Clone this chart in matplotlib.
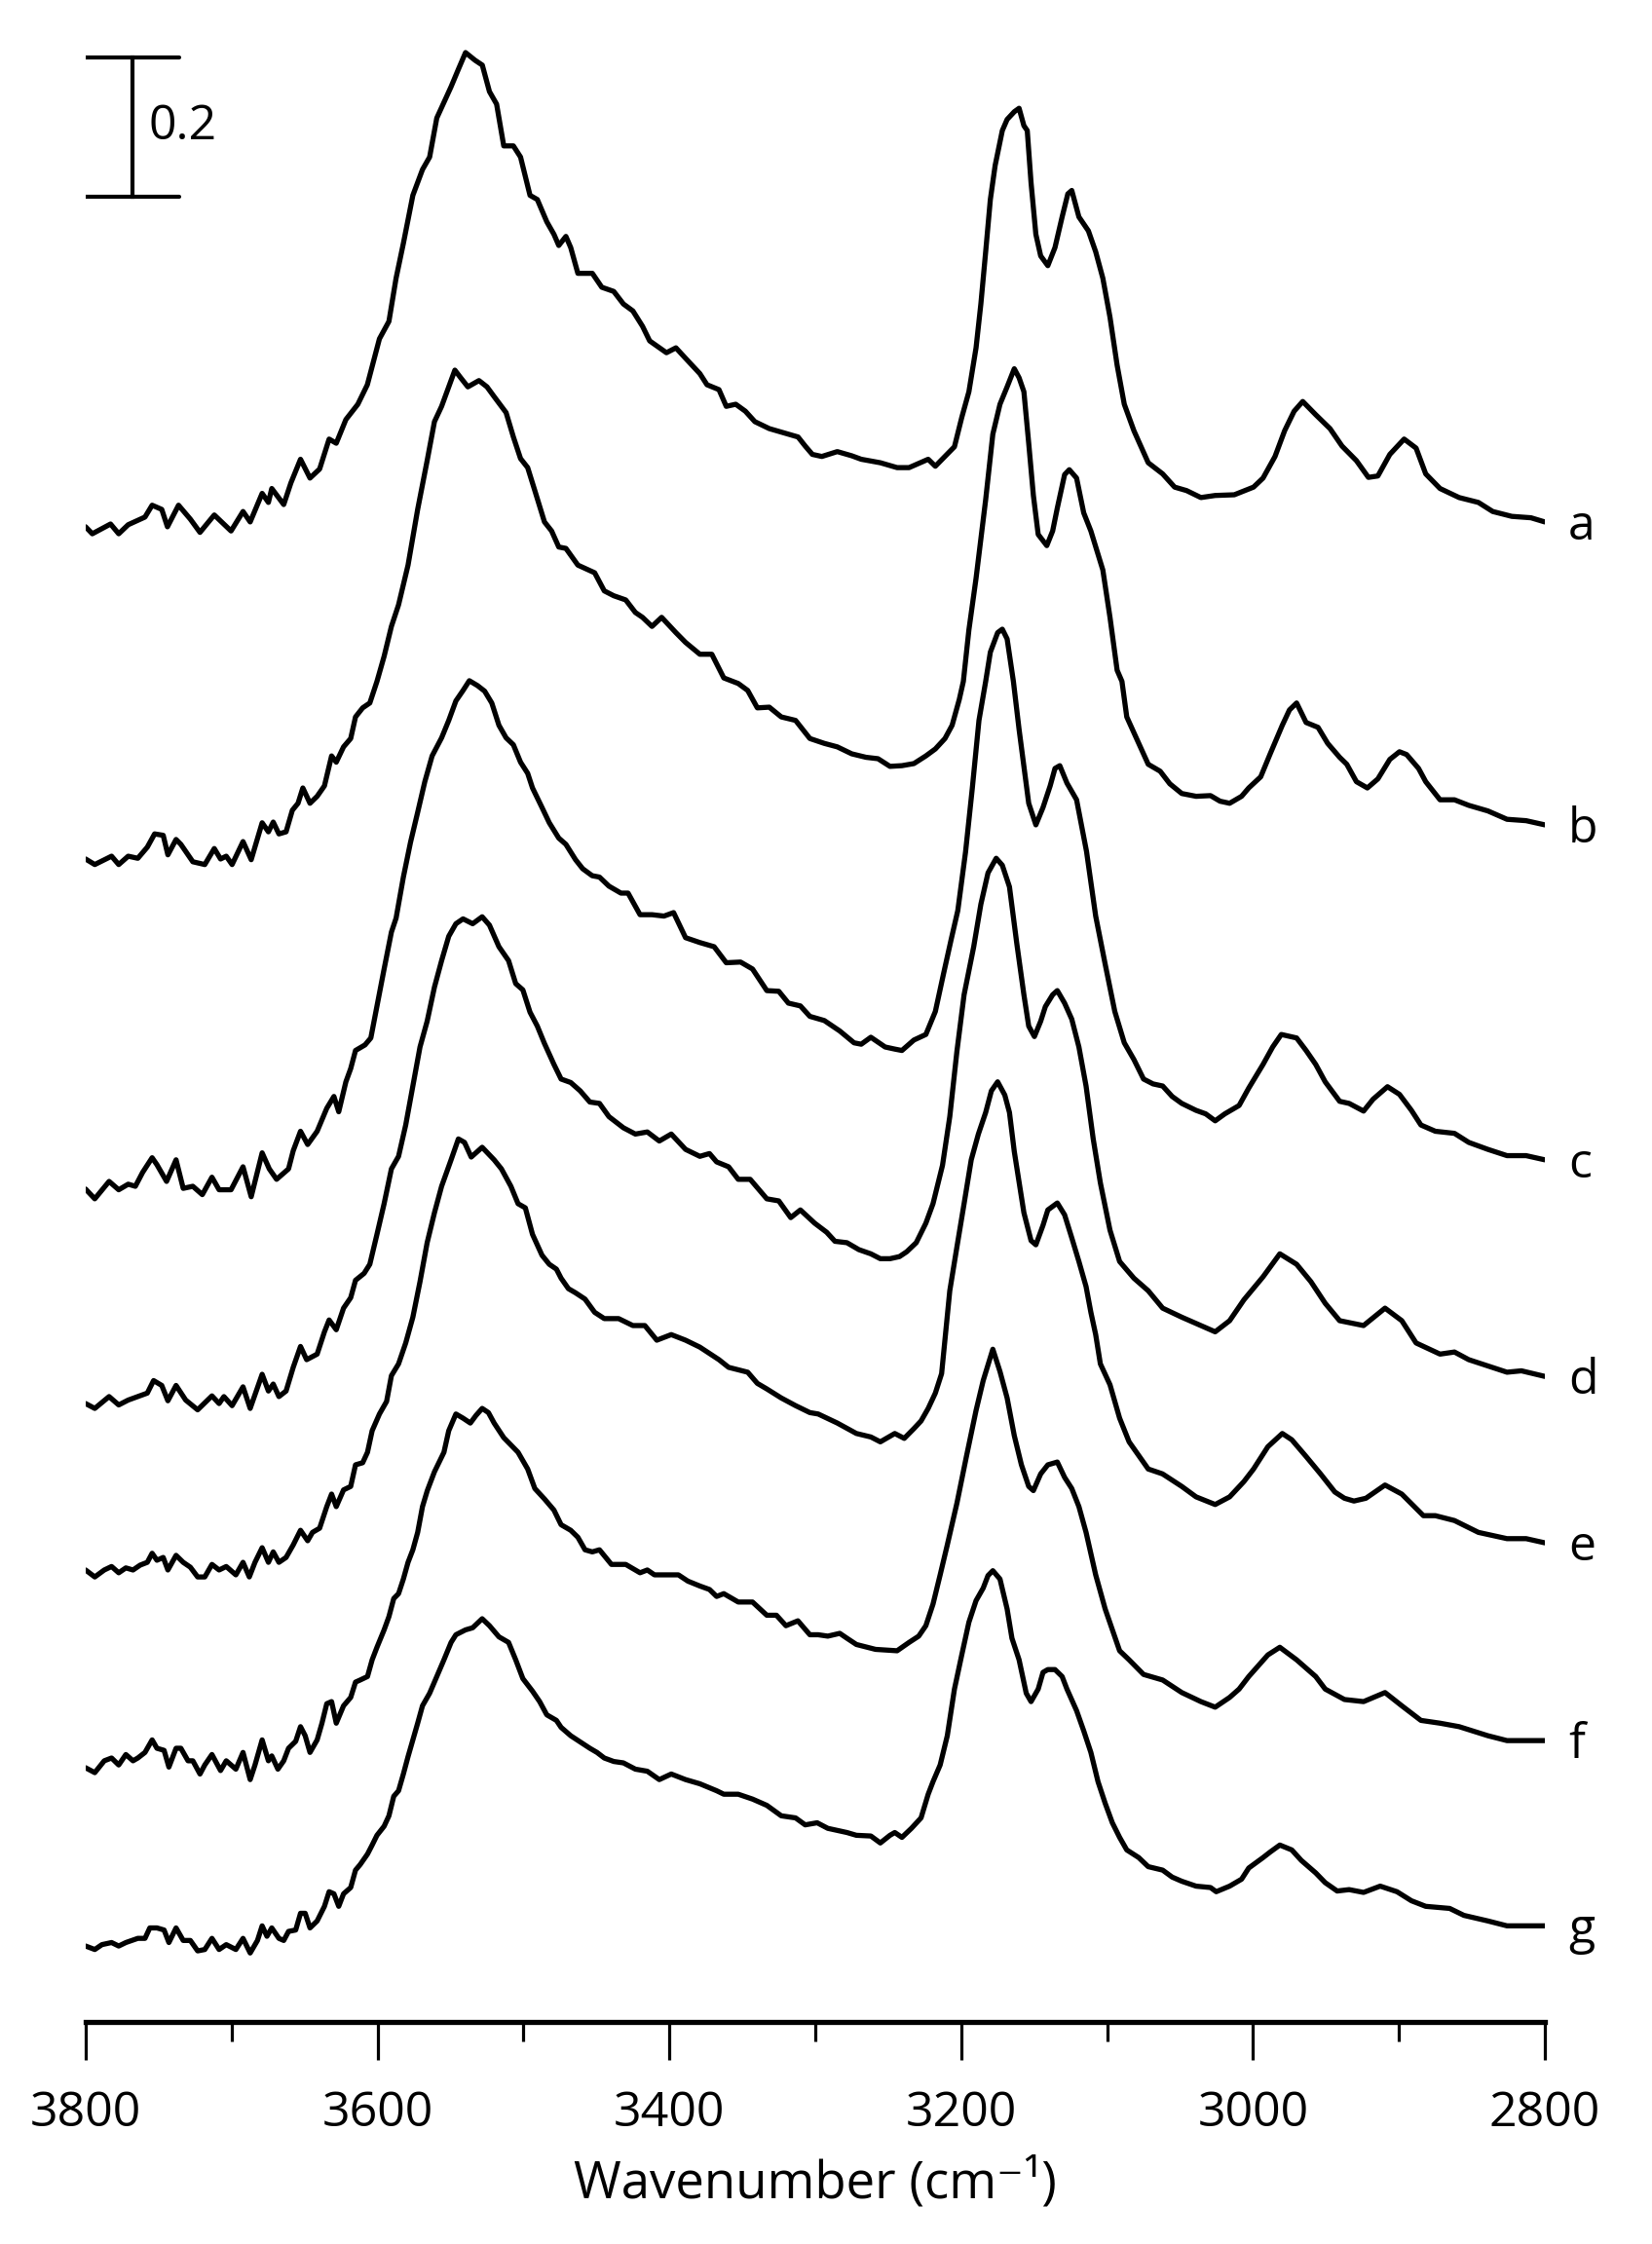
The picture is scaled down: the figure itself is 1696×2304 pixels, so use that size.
import matplotlib
matplotlib.use("Agg")
import matplotlib.pyplot as plt
from matplotlib.ticker import MultipleLocator

# Absorbance of each spectrum, relative to its own value at 2800 cm-1
a_wn = [3800.1, 3795.5, 3783.0, 3777.4, 3770.9, 3759.4, 3754.5, 3747.9, 3744.0, 3736.4,
        3728.3, 3721.7, 3711.9, 3700.4, 3692.2, 3687.3, 3679.1, 3674.8, 3672.5, 3664.3,
        3659.4, 3652.8, 3646.3, 3639.7, 3633.2, 3628.3, 3621.7, 3613.5, 3607.0, 3598.7,
        3592.2, 3587.3, 3582.3, 3575.8, 3569.2, 3564.3, 3559.4, 3553.5, 3549.6, 3544.6,
        3539.7, 3533.2, 3528.2, 3523.3, 3518.4, 3513.5, 3506.9, 3502.0, 3495.5, 3490.5,
        3484.0, 3479.1, 3475.8, 3470.9, 3467.6, 3462.7, 3452.8, 3446.3, 3438.1, 3431.5,
        3425.0, 3418.4, 3413.5, 3402.0, 3395.5, 3388.9, 3379.1, 3374.2, 3366.0, 3361.0,
        3354.5, 3347.9, 3341.4, 3331.5, 3323.3, 3311.8, 3306.9, 3302.0, 3295.5, 3284.9,
        3275.0, 3268.5, 3255.4, 3243.9, 3235.7, 3222.6, 3217.7, 3211.1, 3204.6, 3199.6,
        3194.7, 3189.8, 3186.5, 3183.2, 3180.0, 3176.7, 3171.8, 3168.5, 3163.6, 3160.3,
        3157.0, 3154.7, 3152.1, 3148.8, 3145.5, 3140.6, 3135.7, 3130.8, 3126.9, 3124.2,
        3119.3, 3112.8, 3107.8, 3102.9, 3098.0, 3093.1, 3088.2, 3081.6, 3071.8, 3061.9,
        3053.7, 3045.5, 3035.7, 3025.9, 3012.8, 2999.6, 2993.1, 2984.9, 2978.3, 2971.8,
        2965.9, 2957.0, 2947.2, 2939.0, 2929.1, 2920.9, 2914.4, 2906.2, 2896.4, 2888.2,
        2881.6, 2871.8, 2858.7, 2845.5, 2835.7, 2822.6, 2809.5, 2800.0]
a_abs = [-0.007, -0.017, -0.003, -0.017, -0.004, 0.007, 0.024, 0.018, -0.007, 0.024,
         0.004, -0.015, 0.010, -0.013, 0.015, 0.000, 0.041, 0.028, 0.048, 0.025,
         0.056, 0.090, 0.063, 0.076, 0.119, 0.113, 0.147, 0.169, 0.197, 0.263,
         0.288, 0.350, 0.400, 0.469, 0.506, 0.524, 0.580, 0.607, 0.625, 0.650,
         0.674, 0.663, 0.656, 0.618, 0.600, 0.540, 0.540, 0.524, 0.469, 0.463,
         0.431, 0.413, 0.397, 0.410, 0.394, 0.357, 0.357, 0.337, 0.331, 0.313,
         0.303, 0.281, 0.260, 0.243, 0.250, 0.235, 0.213, 0.197, 0.190, 0.166,
         0.169, 0.159, 0.144, 0.134, 0.129, 0.122, 0.109, 0.097, 0.094, 0.101,
         0.095, 0.090, 0.085, 0.078, 0.078, 0.090, 0.080, 0.094, 0.108, 0.150,
         0.187, 0.250, 0.313, 0.388, 0.463, 0.512, 0.562, 0.578, 0.589, 0.594,
         0.569, 0.562, 0.487, 0.413, 0.382, 0.368, 0.394, 0.438, 0.471, 0.476,
         0.438, 0.418, 0.388, 0.350, 0.294, 0.225, 0.169, 0.131, 0.085, 0.069,
         0.050, 0.045, 0.035, 0.038, 0.039, 0.050, 0.063, 0.094, 0.131, 0.159,
         0.173, 0.154, 0.134, 0.109, 0.088, 0.064, 0.066, 0.097, 0.119, 0.106,
         0.069, 0.048, 0.035, 0.028, 0.015, 0.008, 0.006, 0.000]

b_wn = [3800.1, 3793.8, 3782.3, 3777.4, 3770.9, 3764.3, 3757.8, 3752.8, 3746.9, 3743.7,
        3738.1, 3734.8, 3726.6, 3718.4, 3711.9, 3707.6, 3703.7, 3699.7, 3692.2, 3686.6,
        3679.1, 3674.8, 3671.5, 3667.6, 3662.7, 3658.4, 3654.5, 3651.2, 3646.3, 3641.4,
        3636.4, 3631.5, 3628.3, 3623.3, 3618.4, 3615.1, 3610.2, 3605.3, 3600.4, 3595.5,
        3590.5, 3585.6, 3579.1, 3572.5, 3566.0, 3561.0, 3556.1, 3551.2, 3547.0, 3543.0,
        3538.1, 3530.5, 3525.0, 3520.1, 3511.9, 3506.9, 3502.0, 3497.1, 3492.2, 3485.6,
        3480.7, 3475.8, 3470.9, 3462.7, 3451.2, 3444.6, 3438.1, 3429.9, 3423.3, 3418.4,
        3411.9, 3405.3, 3395.5, 3388.9, 3379.1, 3370.9, 3362.7, 3352.8, 3346.3, 3339.7,
        3331.5, 3323.3, 3313.5, 3303.7, 3293.8, 3284.9, 3275.0, 3265.2, 3257.0, 3248.8,
        3240.6, 3232.4, 3224.2, 3217.7, 3211.1, 3206.2, 3201.3, 3198.5, 3194.7, 3189.8,
        3183.2, 3178.3, 3173.4, 3168.5, 3163.6, 3160.3, 3157.0, 3153.7, 3150.5, 3147.2,
        3141.3, 3137.3, 3134.1, 3129.1, 3125.9, 3120.9, 3116.0, 3111.1, 3102.9, 3098.0,
        3093.1, 3089.8, 3086.5, 3078.3, 3071.8, 3063.6, 3057.0, 3048.8, 3039.0, 3029.1,
        3022.6, 3016.0, 3007.8, 3002.9, 2994.7, 2988.2, 2979.9, 2975.0, 2970.1, 2963.6,
        2955.4, 2948.8, 2940.6, 2935.7, 2929.1, 2921.6, 2914.4, 2906.2, 2899.6, 2894.7,
        2886.5, 2881.6, 2871.8, 2861.9, 2852.1, 2839.0, 2825.9, 2812.8, 2800.0]
b_abs = [-0.049, -0.057, -0.045, -0.057, -0.045, -0.048, -0.032, -0.013, -0.015, -0.043,
         -0.021, -0.028, -0.053, -0.057, -0.034, -0.049, -0.045, -0.057, -0.024, -0.050,
         0.003, -0.010, 0.004, -0.013, -0.010, 0.021, 0.031, 0.053, 0.031, 0.041,
         0.056, 0.099, 0.090, 0.112, 0.124, 0.155, 0.168, 0.175, 0.206, 0.242,
         0.285, 0.316, 0.373, 0.453, 0.523, 0.579, 0.601, 0.629, 0.653, 0.642,
         0.629, 0.638, 0.629, 0.615, 0.592, 0.557, 0.526, 0.513, 0.480, 0.435,
         0.422, 0.399, 0.397, 0.373, 0.362, 0.336, 0.329, 0.323, 0.305, 0.298,
         0.285, 0.298, 0.276, 0.262, 0.245, 0.245, 0.211, 0.203, 0.193, 0.168,
         0.169, 0.155, 0.150, 0.124, 0.117, 0.112, 0.102, 0.097, 0.095, 0.084,
         0.085, 0.088, 0.099, 0.109, 0.124, 0.143, 0.180, 0.206, 0.280, 0.354,
         0.467, 0.561, 0.604, 0.629, 0.655, 0.642, 0.622, 0.548, 0.473, 0.417,
         0.401, 0.422, 0.455, 0.503, 0.510, 0.498, 0.448, 0.422, 0.366, 0.298,
         0.222, 0.206, 0.155, 0.117, 0.087, 0.077, 0.059, 0.045, 0.041, 0.042,
         0.034, 0.031, 0.041, 0.053, 0.069, 0.102, 0.143, 0.165, 0.175, 0.147,
         0.140, 0.117, 0.097, 0.087, 0.062, 0.053, 0.066, 0.094, 0.105, 0.101,
         0.081, 0.062, 0.036, 0.036, 0.028, 0.020, 0.008, 0.006, 0.000]

c_wn = [3800.1, 3793.8, 3784.0, 3777.4, 3770.9, 3766.0, 3761.0, 3754.5, 3751.2, 3744.6,
        3738.1, 3733.2, 3726.6, 3720.1, 3713.5, 3708.6, 3700.4, 3692.2, 3686.6, 3679.1,
        3674.2, 3669.2, 3661.0, 3657.8, 3652.8, 3647.9, 3641.4, 3634.8, 3629.9, 3626.6,
        3621.7, 3618.4, 3615.1, 3608.6, 3604.6, 3600.4, 3595.5, 3590.5, 3587.3, 3582.3,
        3577.4, 3572.5, 3567.6, 3562.6, 3556.1, 3551.2, 3546.3, 3541.4, 3537.1, 3531.5,
        3526.6, 3521.7, 3516.8, 3511.9, 3506.9, 3502.0, 3497.1, 3493.8, 3487.3, 3482.3,
        3475.8, 3470.9, 3464.3, 3459.4, 3452.9, 3447.9, 3441.4, 3433.2, 3428.3, 3420.1,
        3411.9, 3403.7, 3397.1, 3388.9, 3379.1, 3369.3, 3361.0, 3351.2, 3343.0, 3333.2,
        3325.0, 3318.4, 3310.2, 3303.7, 3293.8, 3283.2, 3273.4, 3268.5, 3261.9, 3252.1,
        3245.5, 3240.6, 3232.4, 3224.2, 3217.7, 3212.1, 3206.9, 3202.3, 3197.0, 3192.4,
        3187.8, 3183.2, 3180.0, 3175.0, 3171.8, 3168.5, 3164.2, 3160.3, 3153.7, 3148.8,
        3143.9, 3139.0, 3135.7, 3132.4, 3127.5, 3120.9, 3114.1, 3107.8, 3101.3, 3094.7,
        3088.2, 3081.6, 3075.0, 3068.5, 3061.9, 3055.4, 3048.8, 3039.0, 3032.4, 3025.9,
        3019.3, 3009.5, 3002.9, 2993.1, 2986.5, 2980.6, 2970.1, 2963.6, 2957.0, 2950.5,
        2940.6, 2934.1, 2924.2, 2917.7, 2907.8, 2899.6, 2891.4, 2884.9, 2875.0, 2861.9,
        2852.1, 2839.0, 2825.9, 2812.8, 2800.0]
c_abs = [-0.042, -0.056, -0.031, -0.043, -0.035, -0.038, -0.018, 0.003, -0.007, -0.031,
         0.000, -0.041, -0.038, -0.050, -0.025, -0.043, -0.043, -0.010, -0.053, 0.010,
         -0.013, -0.028, -0.013, 0.013, 0.041, 0.022, 0.041, 0.074, 0.091, 0.069,
         0.112, 0.131, 0.157, 0.165, 0.175, 0.221, 0.274, 0.327, 0.347, 0.406,
         0.456, 0.499, 0.543, 0.580, 0.606, 0.631, 0.659, 0.674, 0.688, 0.681,
         0.673, 0.656, 0.624, 0.606, 0.596, 0.571, 0.555, 0.534, 0.506, 0.484,
         0.462, 0.453, 0.431, 0.418, 0.408, 0.406, 0.393, 0.383, 0.383, 0.352,
         0.352, 0.350, 0.355, 0.319, 0.312, 0.306, 0.283, 0.284, 0.274, 0.243,
         0.242, 0.225, 0.221, 0.206, 0.200, 0.185, 0.168, 0.166, 0.176, 0.162,
         0.159, 0.157, 0.172, 0.180, 0.213, 0.267, 0.316, 0.358, 0.442, 0.533,
         0.631, 0.687, 0.729, 0.757, 0.762, 0.748, 0.687, 0.618, 0.512, 0.481,
         0.506, 0.537, 0.562, 0.566, 0.541, 0.517, 0.443, 0.350, 0.281, 0.213,
         0.168, 0.144, 0.116, 0.109, 0.106, 0.091, 0.081, 0.071, 0.066, 0.056,
         0.066, 0.078, 0.103, 0.137, 0.162, 0.180, 0.175, 0.157, 0.137, 0.112,
         0.084, 0.081, 0.070, 0.087, 0.105, 0.094, 0.071, 0.050, 0.041, 0.038,
         0.025, 0.015, 0.006, 0.006, 0.000]

d_wn = [3800.1, 3793.8, 3784.0, 3777.4, 3770.9, 3764.3, 3757.8, 3753.5, 3747.9, 3743.7,
        3738.1, 3731.5, 3723.3, 3713.5, 3708.6, 3705.3, 3699.7, 3692.2, 3687.3, 3679.1,
        3674.8, 3671.5, 3667.6, 3662.7, 3657.8, 3652.8, 3648.6, 3641.4, 3636.4, 3633.2,
        3628.3, 3623.3, 3618.4, 3615.1, 3609.2, 3605.3, 3600.4, 3595.5, 3590.5, 3585.6,
        3580.7, 3575.8, 3570.9, 3566.0, 3561.0, 3556.1, 3551.2, 3546.3, 3541.4, 3534.8,
        3528.3, 3523.3, 3516.8, 3510.2, 3505.3, 3500.4, 3495.5, 3490.5, 3485.6, 3479.1,
        3474.2, 3467.6, 3461.1, 3454.5, 3447.9, 3441.4, 3431.5, 3423.3, 3415.1, 3406.9,
        3398.7, 3388.9, 3379.1, 3372.5, 3367.6, 3359.4, 3352.8, 3344.6, 3333.2, 3325.0,
        3316.8, 3310.2, 3300.4, 3292.2, 3286.5, 3278.3, 3270.1, 3261.9, 3255.4, 3248.8,
        3242.3, 3237.3, 3230.8, 3224.2, 3219.3, 3212.8, 3207.8, 3202.9, 3198.0, 3191.4,
        3186.5, 3181.6, 3176.0, 3171.8, 3166.9, 3161.9, 3157.0, 3153.7, 3149.8, 3145.5,
        3142.3, 3137.3, 3134.1, 3129.1, 3124.2, 3119.3, 3114.4, 3109.5, 3104.6, 3098.0,
        3091.4, 3081.6, 3071.8, 3061.9, 3048.8, 3035.7, 3025.9, 3016.0, 3006.2, 2993.1,
        2981.6, 2970.1, 2960.3, 2950.5, 2940.6, 2924.2, 2909.5, 2898.0, 2888.2, 2871.8,
        2861.9, 2852.1, 2839.0, 2825.9, 2816.0, 2800.0]
d_abs = [-0.039, -0.046, -0.029, -0.041, -0.034, -0.029, -0.024, -0.006, -0.013, -0.035,
         -0.013, -0.034, -0.048, -0.028, -0.039, -0.029, -0.042, -0.015, -0.046, 0.003,
         -0.021, -0.011, -0.029, -0.021, 0.013, 0.043, 0.024, 0.032, 0.064, 0.081,
         0.067, 0.098, 0.113, 0.138, 0.148, 0.161, 0.204, 0.248, 0.298, 0.316,
         0.361, 0.417, 0.473, 0.510, 0.559, 0.597, 0.632, 0.650, 0.657, 0.650,
         0.660, 0.648, 0.617, 0.597, 0.564, 0.555, 0.523, 0.503, 0.478, 0.448,
         0.427, 0.422, 0.410, 0.394, 0.392, 0.373, 0.357, 0.348, 0.351, 0.338,
         0.348, 0.326, 0.316, 0.320, 0.308, 0.301, 0.283, 0.283, 0.255, 0.252,
         0.228, 0.239, 0.220, 0.207, 0.194, 0.192, 0.182, 0.176, 0.169, 0.169,
         0.172, 0.179, 0.192, 0.220, 0.248, 0.303, 0.373, 0.467, 0.548, 0.617,
         0.678, 0.723, 0.744, 0.734, 0.703, 0.622, 0.548, 0.503, 0.488, 0.510,
         0.531, 0.548, 0.554, 0.536, 0.513, 0.473, 0.417, 0.341, 0.278, 0.210,
         0.165, 0.141, 0.123, 0.098, 0.085, 0.073, 0.064, 0.080, 0.110, 0.143,
         0.176, 0.161, 0.136, 0.105, 0.080, 0.073, 0.098, 0.080, 0.048, 0.032,
         0.035, 0.024, 0.015, 0.006, 0.008, 0.000]

e_wn = [3800.1, 3793.8, 3787.3, 3782.3, 3777.4, 3772.5, 3767.6, 3762.7, 3757.8, 3754.5,
        3751.2, 3746.9, 3743.7, 3738.1, 3733.2, 3728.3, 3723.3, 3718.4, 3713.5, 3708.6,
        3703.7, 3697.1, 3692.2, 3687.9, 3684.0, 3679.1, 3674.8, 3671.5, 3667.6, 3662.7,
        3657.8, 3652.8, 3647.9, 3644.6, 3639.7, 3634.8, 3631.5, 3628.3, 3623.3, 3618.4,
        3615.1, 3610.2, 3606.9, 3603.7, 3598.7, 3593.8, 3590.5, 3585.6, 3580.7, 3575.8,
        3570.9, 3566.0, 3561.0, 3556.1, 3549.6, 3544.6, 3540.4, 3535.8, 3528.3, 3520.1,
        3515.1, 3508.6, 3503.7, 3498.7, 3493.8, 3487.3, 3482.3, 3477.4, 3474.2, 3469.2,
        3464.3, 3457.8, 3451.2, 3444.6, 3434.8, 3425.0, 3416.8, 3408.6, 3398.7, 3388.9,
        3379.1, 3366.0, 3359.4, 3346.3, 3339.7, 3333.2, 3323.3, 3313.5, 3303.7, 3298.0,
        3284.9, 3271.8, 3261.9, 3255.4, 3245.5, 3239.0, 3232.4, 3227.5, 3222.6, 3217.7,
        3213.4, 3207.8, 3202.9, 3198.0, 3193.1, 3188.2, 3183.2, 3179.3, 3175.0, 3170.1,
        3166.9, 3163.6, 3160.3, 3157.0, 3152.1, 3148.8, 3143.9, 3140.6, 3134.1, 3129.1,
        3124.2, 3119.3, 3114.4, 3111.1, 3107.8, 3104.6, 3098.0, 3091.4, 3084.9, 3071.8,
        3062.0, 3048.8, 3039.0, 3025.9, 3016.0, 3006.2, 2999.6, 2989.8, 2979.9, 2973.4,
        2963.6, 2953.7, 2943.9, 2937.3, 2930.8, 2922.6, 2909.5, 2898.0, 2883.2, 2875.0,
        2861.9, 2845.5, 2825.9, 2812.8, 2800.0]
e_abs = [-0.039, -0.049, -0.039, -0.034, -0.043, -0.036, -0.039, -0.032, -0.028, -0.015,
         -0.025, -0.021, -0.039, -0.018, -0.028, -0.035, -0.049, -0.049, -0.031, -0.039,
         -0.034, -0.046, -0.028, -0.049, -0.028, -0.007, -0.028, -0.013, -0.028, -0.021,
         -0.003, 0.018, 0.003, 0.015, 0.021, 0.052, 0.070, 0.052, 0.076, 0.081,
         0.112, 0.115, 0.130, 0.161, 0.185, 0.203, 0.240, 0.257, 0.287, 0.324,
         0.375, 0.431, 0.474, 0.512, 0.550, 0.580, 0.575, 0.554, 0.568, 0.550,
         0.537, 0.512, 0.487, 0.481, 0.443, 0.413, 0.400, 0.393, 0.380, 0.365,
         0.359, 0.350, 0.331, 0.322, 0.322, 0.312, 0.312, 0.291, 0.299, 0.291,
         0.281, 0.263, 0.252, 0.245, 0.229, 0.221, 0.208, 0.197, 0.187, 0.185,
         0.172, 0.157, 0.152, 0.145, 0.157, 0.150, 0.164, 0.175, 0.193, 0.215,
         0.243, 0.362, 0.425, 0.487, 0.550, 0.587, 0.618, 0.649, 0.662, 0.643,
         0.618, 0.562, 0.518, 0.474, 0.434, 0.428, 0.456, 0.478, 0.488, 0.471,
         0.438, 0.404, 0.368, 0.331, 0.299, 0.257, 0.227, 0.179, 0.145, 0.106,
         0.099, 0.081, 0.066, 0.055, 0.066, 0.088, 0.106, 0.138, 0.157, 0.148,
         0.124, 0.099, 0.073, 0.064, 0.060, 0.064, 0.083, 0.070, 0.039, 0.039,
         0.032, 0.015, 0.006, 0.006, 0.000]

f_wn = [3800.1, 3793.8, 3787.3, 3782.3, 3777.4, 3772.5, 3767.6, 3764.3, 3759.4, 3754.5,
        3751.2, 3746.3, 3743.0, 3738.1, 3734.8, 3729.9, 3726.6, 3721.7, 3718.4, 3713.5,
        3707.6, 3703.7, 3697.1, 3692.2, 3687.3, 3684.0, 3679.1, 3674.8, 3672.5, 3668.3,
        3664.3, 3661.0, 3656.1, 3652.8, 3649.6, 3646.3, 3641.4, 3638.1, 3634.8, 3631.5,
        3628.3, 3623.3, 3618.4, 3615.1, 3611.9, 3606.9, 3603.7, 3600.4, 3595.5, 3592.2,
        3588.9, 3585.6, 3582.3, 3579.1, 3575.8, 3572.5, 3569.2, 3565.9, 3561.0, 3554.5,
        3551.2, 3546.3, 3541.4, 3536.4, 3532.5, 3528.3, 3524.0, 3520.1, 3513.5, 3503.7,
        3497.1, 3492.2, 3485.6, 3479.1, 3474.2, 3467.6, 3462.7, 3457.8, 3452.8, 3447.9,
        3439.7, 3429.9, 3420.1, 3415.1, 3410.2, 3393.8, 3387.3, 3379.1, 3372.5, 3367.6,
        3362.7, 3352.8, 3343.0, 3333.2, 3326.6, 3320.1, 3311.9, 3303.7, 3298.0, 3291.4,
        3283.2, 3278.3, 3271.8, 3258.7, 3243.9, 3235.7, 3229.1, 3224.2, 3219.3, 3214.4,
        3209.5, 3202.9, 3196.4, 3189.8, 3184.9, 3178.3, 3173.4, 3168.5, 3163.6, 3158.7,
        3153.7, 3150.5, 3145.5, 3140.6, 3134.1, 3129.1, 3124.2, 3119.3, 3114.4, 3107.8,
        3101.3, 3091.4, 3084.9, 3075.0, 3061.9, 3048.8, 3035.7, 3025.9, 3016.0, 3009.5,
        3002.9, 2989.8, 2981.6, 2970.1, 2957.0, 2950.5, 2937.3, 2924.2, 2909.5, 2898.0,
        2884.9, 2871.8, 2858.7, 2839.0, 2825.9, 2800.0]
f_abs = [-0.039, -0.046, -0.029, -0.025, -0.035, -0.020, -0.029, -0.025, -0.017, 0.001,
         -0.011, -0.014, -0.038, -0.011, -0.011, -0.029, -0.029, -0.048, -0.035, -0.020,
         -0.043, -0.029, -0.041, -0.017, -0.056, -0.035, 0.001, -0.029, -0.022, -0.041,
         -0.029, -0.011, -0.001, 0.020, 0.007, -0.017, 0.001, 0.025, 0.053, 0.056,
         0.025, 0.050, 0.062, 0.084, 0.087, 0.092, 0.116, 0.134, 0.159, 0.178,
         0.204, 0.211, 0.232, 0.256, 0.274, 0.299, 0.336, 0.359, 0.386, 0.414,
         0.445, 0.469, 0.463, 0.456, 0.467, 0.477, 0.471, 0.456, 0.435, 0.414,
         0.390, 0.362, 0.347, 0.331, 0.310, 0.302, 0.292, 0.274, 0.271, 0.274,
         0.253, 0.253, 0.241, 0.245, 0.238, 0.238, 0.229, 0.222, 0.217, 0.207,
         0.211, 0.199, 0.199, 0.180, 0.180, 0.165, 0.172, 0.152, 0.152, 0.150,
         0.154, 0.147, 0.138, 0.131, 0.129, 0.141, 0.150, 0.165, 0.196, 0.238,
         0.281, 0.341, 0.408, 0.474, 0.517, 0.562, 0.530, 0.492, 0.438, 0.396,
         0.365, 0.359, 0.383, 0.396, 0.400, 0.378, 0.362, 0.336, 0.299, 0.238,
         0.189, 0.129, 0.116, 0.095, 0.087, 0.069, 0.056, 0.048, 0.062, 0.074,
         0.092, 0.123, 0.134, 0.116, 0.092, 0.074, 0.059, 0.056, 0.069, 0.050,
         0.029, 0.025, 0.020, 0.007, 0.000, 0.000]

g_wn = [3800.1, 3793.8, 3788.9, 3782.3, 3777.4, 3772.5, 3764.3, 3759.4, 3756.1, 3751.2,
        3746.3, 3743.0, 3738.1, 3733.2, 3728.3, 3723.3, 3718.4, 3713.5, 3708.6, 3703.7,
        3697.1, 3692.2, 3687.3, 3682.3, 3679.1, 3675.8, 3672.5, 3667.6, 3664.3, 3661.0,
        3656.1, 3652.8, 3649.6, 3646.3, 3641.4, 3636.4, 3633.2, 3629.9, 3626.6, 3623.3,
        3618.4, 3615.1, 3611.9, 3606.9, 3603.7, 3600.4, 3595.5, 3592.2, 3588.9, 3585.6,
        3582.3, 3579.1, 3575.8, 3572.5, 3569.2, 3564.3, 3559.4, 3554.5, 3549.6, 3546.3,
        3539.7, 3534.8, 3528.3, 3523.3, 3516.8, 3510.2, 3505.3, 3500.4, 3493.8, 3488.9,
        3484.0, 3477.4, 3474.2, 3467.6, 3461.1, 3454.5, 3449.6, 3444.6, 3438.1, 3431.5,
        3423.3, 3415.1, 3406.9, 3398.7, 3388.9, 3379.1, 3367.6, 3362.7, 3352.8, 3343.0,
        3333.2, 3323.3, 3313.5, 3306.9, 3298.7, 3291.4, 3284.9, 3278.3, 3271.8, 3261.9,
        3255.4, 3248.8, 3245.5, 3240.6, 3234.1, 3227.5, 3222.6, 3219.3, 3214.4, 3209.5,
        3204.6, 3199.6, 3194.7, 3189.8, 3184.9, 3181.6, 3178.3, 3173.4, 3168.5, 3165.2,
        3160.3, 3155.4, 3152.1, 3147.2, 3143.9, 3140.6, 3135.7, 3130.8, 3127.5, 3120.9,
        3116.0, 3111.1, 3106.2, 3101.3, 3096.4, 3091.4, 3086.5, 3078.3, 3071.8, 3061.9,
        3055.4, 3048.8, 3039.0, 3029.1, 3025.2, 3016.0, 3007.8, 3002.9, 2993.1, 2988.2,
        2981.6, 2973.4, 2966.9, 2957.0, 2950.5, 2942.3, 2934.1, 2924.2, 2912.8, 2901.3,
        2891.4, 2881.6, 2865.2, 2855.4, 2839.0, 2825.9, 2812.8, 2800.0]
g_abs = [-0.029, -0.034, -0.027, -0.024, -0.029, -0.024, -0.018, -0.018, -0.003, -0.003,
         -0.006, -0.024, -0.003, -0.021, -0.021, -0.036, -0.034, -0.018, -0.034, -0.027,
         -0.034, -0.018, -0.039, -0.021, 0.000, -0.015, -0.003, -0.018, -0.021, -0.008,
         -0.006, 0.018, 0.018, -0.003, 0.007, 0.028, 0.049, 0.046, 0.028, 0.046,
         0.055, 0.080, 0.088, 0.103, 0.116, 0.130, 0.143, 0.158, 0.186, 0.194,
         0.218, 0.243, 0.267, 0.291, 0.316, 0.334, 0.358, 0.382, 0.407, 0.418,
         0.425, 0.428, 0.441, 0.431, 0.415, 0.407, 0.382, 0.355, 0.337, 0.322,
         0.303, 0.295, 0.285, 0.273, 0.264, 0.255, 0.249, 0.241, 0.236, 0.234,
         0.225, 0.222, 0.210, 0.218, 0.210, 0.204, 0.194, 0.189, 0.189, 0.182,
         0.173, 0.158, 0.155, 0.145, 0.148, 0.140, 0.137, 0.134, 0.130, 0.129,
         0.119, 0.130, 0.134, 0.127, 0.140, 0.155, 0.189, 0.207, 0.231, 0.273,
         0.340, 0.389, 0.436, 0.467, 0.485, 0.503, 0.510, 0.498, 0.455, 0.413,
         0.382, 0.334, 0.322, 0.340, 0.364, 0.368, 0.368, 0.358, 0.340, 0.309,
         0.280, 0.249, 0.207, 0.176, 0.148, 0.127, 0.109, 0.098, 0.085, 0.080,
         0.070, 0.064, 0.057, 0.055, 0.049, 0.057, 0.067, 0.083, 0.098, 0.106,
         0.116, 0.109, 0.094, 0.076, 0.062, 0.050, 0.052, 0.048, 0.057, 0.049,
         0.036, 0.028, 0.025, 0.015, 0.007, 0.000, 0.000, 0.000]

spectra = [(a_wn, a_abs), (b_wn, b_abs), (c_wn, c_abs), (d_wn, d_abs),
           (e_wn, e_abs), (f_wn, f_abs), (g_wn, g_abs)]
labels = ["a", "b", "c", "d", "e", "f", "g"]
offsets = [2.154, 1.719, 1.238, 0.927, 0.688, 0.404, 0.138]  # vertical stacking

SCALE_BAR = 0.2
FONT = ["Open Sans", "DejaVu Sans"]
plt.rcParams["font.family"] = FONT

fig = plt.figure(figsize=(16.96, 23.04), dpi=100)
ax = fig.add_axes([0.0519, 0.09896, 0.8832, 0.90104])

for (wn, ab), off, lab in zip(spectra, offsets, labels):
    ax.plot(wn, [v + off for v in ab], color="black", lw=3.8,
            solid_joinstyle="round", solid_capstyle="round")
    ax.text(2784, off - 0.025, lab, fontsize=36, ha="left", va="baseline",
            clip_on=False)

# scale bar (0.2 absorbance units)
bar_x, bar_l, bar_r, bar_bot = 3768, 3800, 3736, 2.621
ax.plot([bar_x, bar_x], [bar_bot, bar_bot + SCALE_BAR], color="black", lw=3.0)
for yy in (bar_bot, bar_bot + SCALE_BAR):
    ax.plot([bar_l, bar_r], [yy, yy], color="black", lw=3.0, solid_capstyle="round")
ax.text(3757, bar_bot + SCALE_BAR / 2, "0.2", fontsize=36, ha="left", va="center")

ax.set_xlim(3800, 2800)
ax.set_ylim(0, 2.9035)
for s in ["top", "right", "left"]:
    ax.spines[s].set_visible(False)
ax.spines["bottom"].set_linewidth(3.8)
ax.set_yticks([])
ax.xaxis.set_major_locator(MultipleLocator(200))
ax.xaxis.set_minor_locator(MultipleLocator(100))
ax.tick_params(axis="x", which="major", length=28, width=2.3, labelsize=36, pad=22)
ax.tick_params(axis="x", which="minor", length=14.5, width=2.3)
ax.set_xlabel("Wavenumber (cm\u207b\u00b9)", fontsize=38, labelpad=15)

fig.savefig("out.png", dpi=100)
